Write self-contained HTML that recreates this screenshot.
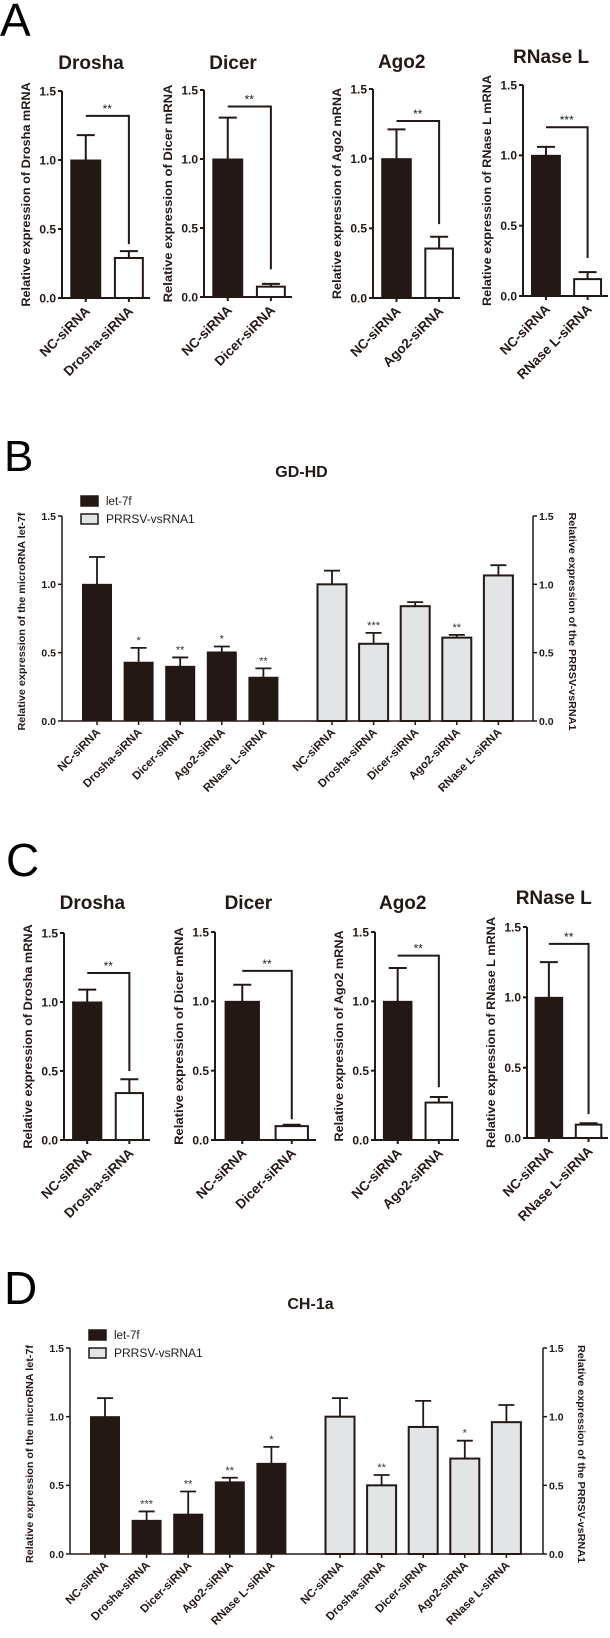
<!DOCTYPE html>
<html><head><meta charset="utf-8">
<style>
html,body{margin:0;padding:0;background:#fff;}
svg{display:block;font-family:"Liberation Sans",Arial,sans-serif;}
</style></head>
<body>
<svg id="fig" width="610" height="1638" viewBox="0 0 610 1638" xmlns="http://www.w3.org/2000/svg">
<text x="0" y="36" font-size="46">A</text>
<text x="4" y="471" font-size="44">B</text>
<text x="6" y="876" font-size="46">C</text>
<text x="4" y="1304" font-size="46">D</text>
</svg>
<script>
// ---- Panel A data ----
const aTitles = ["Drosha","Dicer","Ago2","RNase L"];
const aCatFirst = ["NC-siRNA","NC-siRNA","NC-siRNA","NC-siRNA"];
const aCatSecond = ["Drosha-siRNA","Dicer-siRNA","Ago2-siRNA","RNase L-siRNA"];
const aNC = [1.0,1.0,1.0,1.0];
const aNCErr = [0.18,0.30,0.21,0.06];
const aKD = [0.29,0.075,0.355,0.12];
const aKDErr = [0.05,0.02,0.085,0.05];
const aBracketTop = [1.32,1.38,1.27,1.20];
const aBracketEnd = [0.39,0.20,0.53,0.27];
const aStars = ["**","**","**","***"];
// ---- Panel C data ----
const cTitles = ["Drosha","Dicer","Ago2","RNase L"];
const cCatFirst = ["NC-siRNA","NC-siRNA","NC-siRNA","NC-siRNA"];
const cCatSecond = ["Drosha-siRNA","Dicer-siRNA","Ago2-siRNA","RNase L-siRNA"];
const cNC = [1.0,1.0,1.0,1.0];
const cNCErr = [0.09,0.12,0.24,0.25];
const cKD = [0.34,0.10,0.27,0.095];
const cKDErr = [0.10,0.01,0.04,0.01];
const cBracketTop = [1.21,1.22,1.33,1.38];
const cBracketEnd = [0.50,0.15,0.38,0.17];
const cStars = ["**","**","**","**"];
// ---- Panel B / D data ----
const groupCategories = ["NC-siRNA","Drosha-siRNA","Dicer-siRNA","Ago2-siRNA","RNase L-siRNA"];
const bLet7f = [1.0,0.43,0.40,0.505,0.32];
const bLet7fErr = [0.20,0.105,0.065,0.04,0.065];
const bLet7fStars = ["","*","**","*","**"];
const bVsrna = [1.0,0.565,0.84,0.61,1.065];
const bVsrnaErr = [0.10,0.08,0.03,0.02,0.075];
const bVsrnaStars = ["","***","","**",""];
const dLet7f = [1.0,0.245,0.29,0.525,0.66];
const dLet7fErr = [0.135,0.065,0.165,0.03,0.12];
const dLet7fStars = ["","***","**","**","*"];
const dVsrna = [1.0,0.50,0.925,0.695,0.96];
const dVsrnaErr = [0.135,0.075,0.19,0.13,0.125];
const dVsrnaStars = ["","**","","*",""];
const tickValues = [0,0.5,1.0,1.5];
const tickLabels = ["0.0","0.5","1.0","1.5"];
const yMax = 1.5;

const svg = document.getElementById('fig');
const NS = "http://www.w3.org/2000/svg";
function mk(tag, attrs, name, inter, txt){
  const el = document.createElementNS(NS, tag);
  for (const k in attrs) el.setAttribute(k, attrs[k]);
  
  
  if (txt !== undefined) el.textContent = txt;
  svg.appendChild(el);
  return el;
}
const DARK = "#231815", GREY = "#e3e4e5";

function yAxisLeft(x0, zero, top, fs, lw, nm){
  const ys = v => zero - v*(zero-top)/yMax;
  mk('line',{x1:x0,y1:top,x2:x0,y2:zero,stroke:'#231815','stroke-width':lw},nm+'-y-axis',false);
  tickValues.forEach((v,i)=>{
    mk('line',{x1:x0-4,y1:ys(v),x2:x0,y2:ys(v),stroke:'#231815','stroke-width':lw},nm+'-y-tick',false);
    mk('text',{x:x0-6,y:ys(v)+fs*0.36,'font-size':fs,'font-weight':'bold','text-anchor':'end',fill:'#231815'},nm+'-y-tick-label',false,tickLabels[i]);
  });
  return ys;
}

function smallChart(p, i, x0, L, zero, top, titleY){
  const nm = p+'-'+i;
  const T = p==='a'?aTitles:cTitles, F = p==='a'?aCatFirst:cCatFirst, S = p==='a'?aCatSecond:cCatSecond;
  const M1 = p==='a'?aNC:cNC, E1 = p==='a'?aNCErr:cNCErr, M2 = p==='a'?aKD:cKD, E2 = p==='a'?aKDErr:cKDErr;
  const BT = p==='a'?aBracketTop:cBracketTop, BE = p==='a'?aBracketEnd:cBracketEnd, ST = p==='a'?aStars:cStars;
  const ys = v => zero - v*(zero-top)/yMax;
  const c1 = x0 + 0.27*L, c2 = x0 + 0.76*L, w = 0.34*L;
  mk('text',{x:x0+L*0.33,y:titleY,'font-size':19,'font-weight':'bold','text-anchor':'middle',fill:'#231815'},nm+'-title',false,T[i]);
  const yt = "Relative expression of "+T[i]+" mRNA";
  mk('text',{x:0,y:0,'font-size':12,'font-weight':'bold','text-anchor':'middle',fill:'#231815',textLength:yt.length*6.6,lengthAdjust:'spacingAndGlyphs',transform:`translate(${x0-32},${(zero+top)/2}) rotate(-90)`},nm+'-y-axis-title',false,yt);
  mk('rect',{x:c1-w/2,y:ys(M1[i]),width:w,height:zero-ys(M1[i]),fill:DARK,stroke:DARK,'stroke-width':1},nm+'-bar-nc',false);
  mk('rect',{x:c2-w/2+1,y:ys(M2[i]),width:w-2,height:zero-ys(M2[i]),fill:'#fff',stroke:DARK,'stroke-width':2},nm+'-bar-knockdown',false);
  [[c1,M1[i],E1[i]],[c2,M2[i],E2[i]]].forEach(([c,m,e],k)=>{
    mk('line',{x1:c,y1:ys(m),x2:c,y2:ys(m+e),stroke:DARK,'stroke-width':2},nm+'-error-bar',false);
    mk('line',{x1:c-9,y1:ys(m+e),x2:c+9,y2:ys(m+e),stroke:DARK,'stroke-width':2},nm+'-error-cap',false);
  });
  mk('polyline',{points:`${c1},${ys(BT[i])} ${c2},${ys(BT[i])} ${c2},${ys(BE[i])}`,fill:'none',stroke:DARK,'stroke-width':2},nm+'-significance-bracket',false);
  mk('text',{x:(c1+c2)/2,y:ys(BT[i])-3,'font-size':12,'text-anchor':'middle',fill:'#231815'},nm+'-significance-stars',false,ST[i]);
  yAxisLeft(x0, zero, top, 12, 2, nm);
  mk('line',{x1:x0,y1:zero,x2:x0+L,y2:zero,stroke:DARK,'stroke-width':2},nm+'-x-axis',false);
  [[c1,F[i]],[c2,S[i]]].forEach(([c,lab])=>{
    mk('line',{x1:c,y1:zero,x2:c,y2:zero+4,stroke:DARK,'stroke-width':2},nm+'-x-tick',false);
    mk('text',{x:0,y:0,'font-size':13.5,'font-weight':'bold','text-anchor':'end',fill:'#231815',transform:`translate(${c+5},${zero+14}) rotate(-45)`},nm+'-x-tick-label',false,lab);
  });
}

[[62,88,298,91,69],[204,88,297,90,69],[373,87,298,89,68],[523,85,296,85,63]].forEach((g,i)=>smallChart('a',i,g[0],g[1],g[2],g[3],g[4]));
[[64,86,1140,933,909],[215,101,1140,932,909],[375,84,1140,932,909],[527,81,1138,927,904]].forEach((g,i)=>smallChart('c',i,g[0],g[1],g[2],g[3],g[4]));

function bigChart(p, x0, x1, zero, top, title, titleY, legX, legY, rtX){
  const L1 = p==='b'?bLet7f:dLet7f, E1 = p==='b'?bLet7fErr:dLet7fErr, S1 = p==='b'?bLet7fStars:dLet7fStars;
  const L2 = p==='b'?bVsrna:dVsrna, E2 = p==='b'?bVsrnaErr:dVsrnaErr, S2 = p==='b'?bVsrnaStars:dVsrnaStars;
  const ys = v => zero - v*(zero-top)/yMax;
  const step = 41.6, w = 29;
  mk('text',{x:(x0+x1)/2+4,y:titleY,'font-size':16,'font-weight':'bold','text-anchor':'middle',fill:'#231815'},p+'-chart-title',false,title);
  const lt = "Relative expression of the microRNA let-7f";
  mk('text',{x:0,y:0,'font-size':10,'font-weight':'bold','text-anchor':'middle',fill:'#231815',textLength:218,lengthAdjust:'spacingAndGlyphs',transform:`translate(${x0-37},${(zero+top)/2+3}) rotate(-90)`},p+'-left-y-axis-title',false,lt);
  const rt = "Relative expression of the PRRSV-vsRNA1";
  mk('text',{x:0,y:0,'font-size':10,'font-weight':'bold','text-anchor':'middle',fill:'#231815',textLength:218,lengthAdjust:'spacingAndGlyphs',transform:`translate(${rtX},${(zero+top)/2+3}) rotate(90)`},p+'-right-y-axis-title',false,rt);
  const series = [[L1,E1,S1,35,DARK,1,'let7f'],[L2,E2,S2,270,GREY,2,'vsrna1']];
  series.forEach(([vals,errs,stars,off,fill,sw,sn])=>{
    groupCategories.forEach((cat,i)=>{
      const c = x0 + off + i*step;
      mk('rect',{x:c-w/2,y:ys(vals[i]),width:w,height:zero-ys(vals[i]),fill:fill,stroke:DARK,'stroke-width':sw},p+'-bar-'+sn,false);
      const et = ys(vals[i]+errs[i]);
      mk('line',{x1:c,y1:ys(vals[i]),x2:c,y2:et,stroke:DARK,'stroke-width':1.8},p+'-error-bar',false);
      mk('line',{x1:c-8,y1:et,x2:c+8,y2:et,stroke:DARK,'stroke-width':1.8},p+'-error-cap',false);
      if (stars[i]) mk('text',{x:c,y:et-4,'font-size':11,'text-anchor':'middle',fill:'#333'},p+'-significance-stars',false,stars[i]);
      mk('line',{x1:c,y1:zero,x2:c,y2:zero+4,stroke:DARK,'stroke-width':1.5},p+'-x-tick',false);
      mk('text',{x:0,y:0,'font-size':11.5,'font-weight':'bold','text-anchor':'end',fill:'#231815',transform:`translate(${c+4},${zero+12}) rotate(-45)`},p+'-x-tick-label',false,cat);
    });
  });
  yAxisLeft(x0, zero, top, 10.5, 1.5, p+'-left');
  mk('line',{x1:x1,y1:top,x2:x1,y2:zero,stroke:DARK,'stroke-width':1.5},p+'-right-y-axis',false);
  tickValues.forEach((v,i)=>{
    mk('line',{x1:x1,y1:ys(v),x2:x1+4,y2:ys(v),stroke:DARK,'stroke-width':1.5},p+'-right-y-tick',false);
    mk('text',{x:x1+6,y:ys(v)+4,'font-size':10.5,'font-weight':'bold',fill:'#231815'},p+'-right-y-tick-label',false,tickLabels[i]);
  });
  mk('line',{x1:x0,y1:zero,x2:x1,y2:zero,stroke:DARK,'stroke-width':1.5},p+'-x-axis',false);
  mk('rect',{x:legX,y:legY,width:17,height:10,fill:DARK,stroke:DARK,'stroke-width':1.5},p+'-legend-swatch-let7f',false);
  mk('text',{x:legX+25,y:legY+9,'font-size':11.5,fill:'#231815'},p+'-legend-label-let7f',false,'let-7f');
  mk('rect',{x:legX,y:legY+18,width:17,height:10,fill:GREY,stroke:DARK,'stroke-width':1.5},p+'-legend-swatch-vsrna1',false);
  mk('text',{x:legX+25,y:legY+27,'font-size':12,fill:'#231815'},p+'-legend-label-vsrna1',false,'PRRSV-vsRNA1');
}
bigChart('b', 62, 533, 721, 516, 'GD-HD', 477, 81, 496, 569);
bigChart('d', 70, 543, 1554, 1348, 'CH-1a', 1309, 89, 1330, 578);
</script>
</body></html>
